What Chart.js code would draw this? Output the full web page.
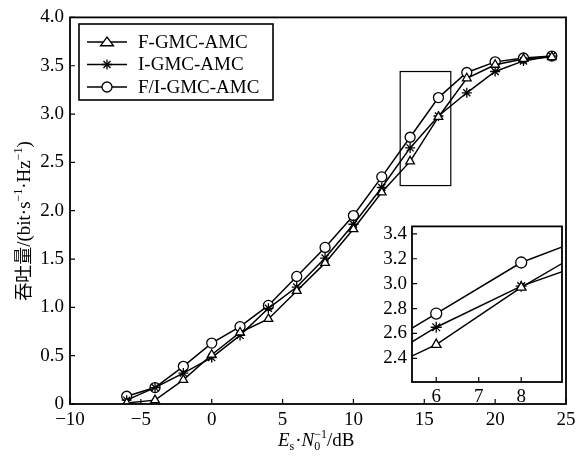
<!DOCTYPE html>
<html>
<head>
<meta charset="utf-8">
<script src="https://cdn.jsdelivr.net/npm/chart.js@4/dist/chart.umd.min.js"></script>
<style>
  html,body{margin:0;padding:0;background:#fff;}
  #wrap{position:relative;width:583px;height:456px;}
  canvas{position:absolute;}
</style>
</head>
<body>
<div id="wrap">
  <canvas id="main" width="583" height="456" style="left:0;top:0"></canvas>
  <canvas id="inset" width="215" height="200" style="left:360px;top:210px"></canvas>
</div>
<script>
// ---- data ----
const snr = [-6, -4, -2, 0, 2, 4, 6, 8, 10, 12, 14, 16, 18, 20, 22, 24];
const fGmcAmc  = [0.01, 0.04, 0.25, 0.51, 0.74, 0.88, 1.17, 1.46, 1.81, 2.19, 2.51, 2.97, 3.37, 3.51, 3.57, 3.59];
const iGmcAmc  = [0.04, 0.17, 0.32, 0.48, 0.71, 0.99, 1.21, 1.51, 1.86, 2.24, 2.65, 2.98, 3.22, 3.44, 3.55, 3.60];
const fiGmcAmc = [0.08, 0.17, 0.39, 0.63, 0.80, 1.02, 1.32, 1.62, 1.95, 2.35, 2.76, 3.17, 3.43, 3.54, 3.58, 3.60];
const seriesNames = ['F-GMC-AMC', 'I-GMC-AMC', 'F/I-GMC-AMC'];
const seriesMarkers = ['triangle', 'star', 'circle'];

const xTicks = [-10, -5, 0, 5, 10, 15, 20, 25];
const yTicks = [0, 0.5, 1.0, 1.5, 2.0, 2.5, 3.0, 3.5, 4.0];
const insetXTicks = [14, 15, 16];
const insetXTickLabels = ['6', '7', '8'];
const insetYTicks = [2.4, 2.6, 2.8, 3.0, 3.2, 3.4];
const zoomBox = {x0: 13.3, x1: 16.87, y0: 2.26, y1: 3.44};
const insetRange = {x0: 13.43, x1: 16.96, y0: 2.21, y1: 3.46};

const SERIF = "'Liberation Serif','Times New Roman',serif";
const CJK = "'Noto Sans CJK SC',sans-serif";

function makeDatasets(r) {
  const all = [fGmcAmc, iGmcAmc, fiGmcAmc];
  return all.map((arr, k) => ({
    label: seriesNames[k],
    data: snr.map((x, i) => ({x: x, y: arr[i]})),
    borderColor: '#000',
    borderWidth: 1.5,
    backgroundColor: '#fff',
    pointStyle: seriesMarkers[k],
    pointRadius: r,
    pointBorderWidth: 1.3,
    pointBorderColor: '#000',
    pointBackgroundColor: '#fff',
    tension: 0,
    fill: false
  }));
}

function drawMarker(ctx, style, x, y, r) {
  ctx.save();
  ctx.strokeStyle = '#000'; ctx.fillStyle = '#fff'; ctx.lineWidth = 1.3;
  ctx.beginPath();
  if (style === 'circle') {
    ctx.arc(x, y, r, 0, Math.PI * 2);
    ctx.fill(); ctx.stroke();
  } else if (style === 'triangle') {
    const w = r * 1.3;
    ctx.moveTo(x, y - r); ctx.lineTo(x + w, y + r * 0.75); ctx.lineTo(x - w, y + r * 0.75); ctx.closePath();
    ctx.fill(); ctx.stroke();
  } else {
    for (let a = 0; a < 4; a++) {
      const ang = a * Math.PI / 4;
      ctx.moveTo(x - r * Math.cos(ang), y - r * Math.sin(ang));
      ctx.lineTo(x + r * Math.cos(ang), y + r * Math.sin(ang));
    }
    ctx.stroke();
  }
  ctx.restore();
}

function innerTicks(chart, len) {
  const ctx = chart.ctx, a = chart.chartArea;
  const xs = chart.scales.x, ys = chart.scales.y;
  ctx.save();
  ctx.strokeStyle = '#000'; ctx.lineWidth = 1.2;
  ctx.beginPath();
  xs.ticks.forEach(t => { const p = xs.getPixelForValue(t.value); ctx.moveTo(p, a.bottom); ctx.lineTo(p, a.bottom - len); });
  ys.ticks.forEach(t => { const p = ys.getPixelForValue(t.value); ctx.moveTo(a.left, p); ctx.lineTo(a.left + len, p); });
  ctx.stroke();
  ctx.lineWidth = 1.8;
  ctx.strokeRect(a.left, a.top, a.right - a.left, a.bottom - a.top);
  ctx.restore();
}

const mainDecor = {
  id: 'mainDecor',
  afterDraw(chart) {
    const ctx = chart.ctx, xs = chart.scales.x, ys = chart.scales.y;
    innerTicks(chart, 5);
    // zoom rectangle
    ctx.save();
    ctx.strokeStyle = '#000'; ctx.lineWidth = 1.2;
    const rx0 = xs.getPixelForValue(zoomBox.x0), rx1 = xs.getPixelForValue(zoomBox.x1);
    const ry0 = ys.getPixelForValue(zoomBox.y1), ry1 = ys.getPixelForValue(zoomBox.y0);
    ctx.strokeRect(rx0, ry0, rx1 - rx0, ry1 - ry0);
    ctx.restore();
    // legend
    ctx.save();
    ctx.strokeStyle = '#000'; ctx.lineWidth = 1.6;
    ctx.fillStyle = '#fff';
    ctx.fillRect(79, 24, 194, 76);
    ctx.strokeRect(79, 24, 194, 76);
    const rows = [42, 64.5, 87];
    ctx.font = '19px ' + SERIF;
    ctx.textBaseline = 'middle';
    rows.forEach((yy, k) => {
      ctx.beginPath(); ctx.lineWidth = 1.5; ctx.strokeStyle = '#000';
      ctx.moveTo(87, yy); ctx.lineTo(127, yy); ctx.stroke();
      drawMarker(ctx, seriesMarkers[k], 107, yy, 5);
      ctx.fillStyle = '#000';
      ctx.fillText(seriesNames[k], 138, yy + 1);
    });
    ctx.restore();
    // x axis title: Es·N0^-1/dB
    ctx.save();
    ctx.fillStyle = '#000'; ctx.textBaseline = 'alphabetic';
    let x = 278; const base = 446;
    const big = '19px ' + SERIF, bigI = 'italic 19px ' + SERIF, small = '12px ' + SERIF;
    ctx.font = bigI; ctx.fillText('E', x, base); x += ctx.measureText('E').width;
    ctx.font = small; ctx.fillText('s', x, base + 4); x += ctx.measureText('s').width + 1;
    ctx.font = big; ctx.fillText('·', x, base); x += ctx.measureText('·').width;
    ctx.font = bigI; ctx.fillText('N', x, base); x += ctx.measureText('N').width;
    ctx.font = small; ctx.fillText('0', x, base + 4); ctx.fillText('−1', x, base - 8);
    x += ctx.measureText('−1').width;
    ctx.font = big; ctx.fillText('/dB', x, base);
    ctx.restore();
    // y axis title: 吞吐量/(bit·s^-1·Hz^-1)
    ctx.save();
    const parts = [
      {t: '吞吐量', f: '18px ' + CJK, dy: 0},
      {t: '/(bit·s', f: '19px ' + SERIF, dy: 0},
      {t: '−1', f: '12px ' + SERIF, dy: -8},
      {t: '·Hz', f: '19px ' + SERIF, dy: 0},
      {t: '−1', f: '12px ' + SERIF, dy: -8},
      {t: ')', f: '19px ' + SERIF, dy: 0}
    ];
    let total = 0;
    parts.forEach(p => { ctx.font = p.f; p.w = ctx.measureText(p.t).width; total += p.w; });
    ctx.translate(30, 221);
    ctx.rotate(-Math.PI / 2);
    ctx.fillStyle = '#000'; ctx.textBaseline = 'alphabetic';
    let px = -total / 2;
    parts.forEach(p => { ctx.font = p.f; ctx.fillText(p.t, px, p.dy); px += p.w; });
    ctx.restore();
  }
};

const insetDecor = {
  id: 'insetDecor',
  beforeDatasetsDraw(chart) {
    const a = chart.chartArea, ctx = chart.ctx;
    ctx.save(); ctx.fillStyle = '#fff';
    ctx.fillRect(a.left, a.top, a.right - a.left, a.bottom - a.top);
    ctx.restore();
  },
  afterDraw(chart) { innerTicks(chart, 5); }
};

const tickFont = {family: SERIF, size: 19};

new Chart(document.getElementById('main'), {
  type: 'line',
  data: {datasets: makeDatasets(5)},
  options: {
    responsive: false, animation: false,
    layout: {padding: {left: 0, top: 16, right: 17, bottom: 0}},
    plugins: {legend: {display: false}, tooltip: {enabled: false}},
    scales: {
      x: {
        type: 'linear', min: -10, max: 25,
        grid: {display: false, drawTicks: false}, border: {display: false},
        afterBuildTicks: s => { s.ticks = xTicks.map(v => ({value: v})); },
        afterFit: s => { s.height = 52; },
        ticks: {color: '#000', font: tickFont, padding: 5, maxRotation: 0,
          callback: v => String(v).replace('-', '−')}
      },
      y: {
        type: 'linear', min: 0, max: 4,
        grid: {display: false, drawTicks: false}, border: {display: false},
        afterBuildTicks: s => { s.ticks = yTicks.map(v => ({value: v})); },
        afterFit: s => { s.width = 70; },
        ticks: {color: '#000', font: tickFont, padding: 6,
          callback: v => v === 0 ? '0' : Number(v).toFixed(1)}
      }
    }
  },
  plugins: [mainDecor]
});

new Chart(document.getElementById('inset'), {
  type: 'line',
  data: {datasets: makeDatasets(5.5)},
  options: {
    responsive: false, animation: false,
    layout: {padding: {left: 0, top: 15, right: 13, bottom: 0}},
    plugins: {legend: {display: false}, tooltip: {enabled: false}},
    scales: {
      x: {
        type: 'linear', min: insetRange.x0, max: insetRange.x1,
        grid: {display: false, drawTicks: false}, border: {display: false},
        afterBuildTicks: s => { s.ticks = insetXTicks.map(v => ({value: v})); },
        afterFit: s => { s.height = 28; },
        ticks: {color: '#000', font: tickFont, padding: 4, maxRotation: 0,
          callback: (v) => insetXTickLabels[insetXTicks.indexOf(v)]}
      },
      y: {
        type: 'linear', min: insetRange.y0, max: insetRange.y1,
        grid: {display: false, drawTicks: false}, border: {display: false},
        afterBuildTicks: s => { s.ticks = insetYTicks.map(v => ({value: v})); },
        afterFit: s => { s.width = 52; },
        ticks: {color: '#000', font: tickFont, padding: 5,
          callback: v => Number(v).toFixed(1)}
      }
    }
  },
  plugins: [insetDecor]
});
</script>
</body>
</html>
